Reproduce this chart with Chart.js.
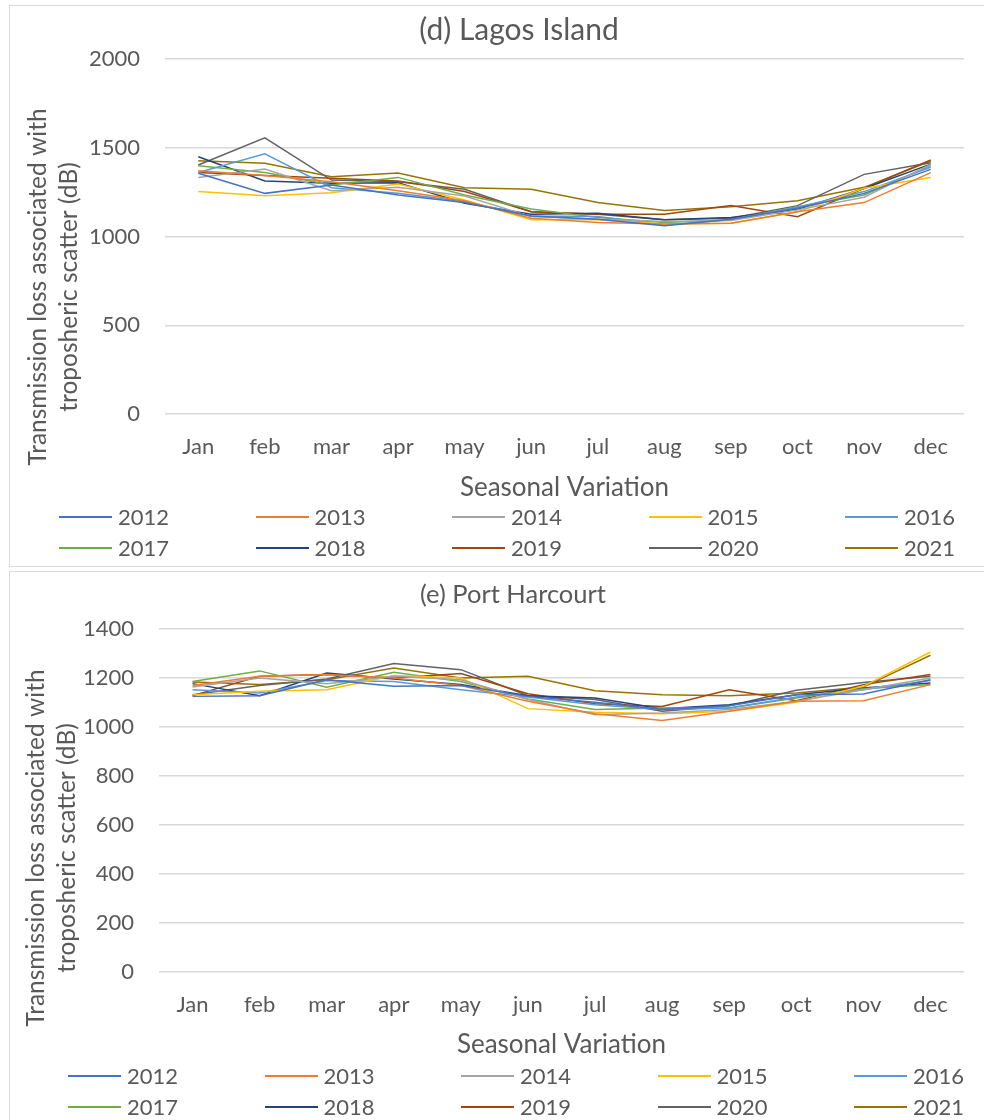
<!DOCTYPE html>
<html>
<head>
<meta charset="utf-8">
<script src="https://cdn.jsdelivr.net/npm/chart.js@4"></script>
<style>
  body { margin: 0; background: #fff; width: 984px; height: 1120px; overflow: hidden; position: relative; font-family: Lato, sans-serif; }
  .frame { position: absolute; border: 1.5px solid #d9d9d9; width: 1000px; box-sizing: border-box; }
  canvas { position: absolute; left: 0; }
  .legend { position: absolute; display: grid; grid-template-columns: repeat(5, 196.5px); grid-auto-rows: 31px; }
  .legend-item { display: flex; align-items: center; color: #595959; font-size: 22px; }
  .legend-item span.swatch { display: inline-block; width: 53px; height: 2px; margin-right: 6px; }
</style>
</head>
<body>
<div class="frame" style="left:9px; top:5px; height:562px;"></div>
<div class="frame" style="left:9px; top:571px; height:600px;"></div>
<canvas id="lagosChart" width="984" height="568" style="top:0"></canvas>
<canvas id="phChart" width="984" height="552" style="top:568px"></canvas>
<div id="lagosLegend" class="legend" style="left:59px; top:501px;"></div>
<div id="phLegend" class="legend" style="left:68px; top:1060px;"></div>
<script>
const months = ["Jan", "feb", "mar", "apr", "may", "jun", "jul", "aug", "sep", "oct", "nov", "dec"];
const years = ["2012", "2013", "2014", "2015", "2016", "2017", "2018", "2019", "2020", "2021"];
const yearColors = ["#4472C4", "#ED7D31", "#A5A5A5", "#FFC000", "#5B9BD5", "#70AD47", "#264478", "#9E480E", "#636363", "#997300"];

// (d) Lagos Island, one row per year
const lagos2012 = [1356, 1243, 1290, 1234, 1191, 1116, 1097, 1060, 1097, 1159, 1243, 1378];
const lagos2013 = [1371, 1343, 1309, 1258, 1202, 1103, 1079, 1071, 1075, 1140, 1191, 1360];
const lagos2014 = [1333, 1380, 1258, 1277, 1228, 1112, 1097, 1084, 1090, 1150, 1221, 1406];
const lagos2015 = [1253, 1230, 1247, 1296, 1206, 1094, 1094, 1071, 1075, 1140, 1272, 1333];
const lagos2016 = [1361, 1466, 1275, 1243, 1197, 1116, 1112, 1065, 1094, 1165, 1253, 1390];
const lagos2017 = [1399, 1360, 1290, 1333, 1234, 1155, 1107, 1079, 1094, 1168, 1234, 1399];
const lagos2018 = [1449, 1313, 1300, 1303, 1187, 1125, 1131, 1094, 1107, 1153, 1270, 1408];
const lagos2019 = [1361, 1343, 1328, 1313, 1253, 1140, 1125, 1125, 1174, 1112, 1272, 1431];
const lagos2020 = [1403, 1556, 1318, 1309, 1266, 1140, 1125, 1094, 1103, 1174, 1350, 1416];
const lagos2021 = [1427, 1412, 1337, 1358, 1275, 1266, 1191, 1146, 1168, 1202, 1277, 1425];

// (e) Port Harcourt
const ph2012 = [1125, 1128, 1193, 1166, 1169, 1125, 1101, 1071, 1087, 1132, 1135, 1193];
const ph2013 = [1169, 1207, 1214, 1200, 1169, 1105, 1054, 1027, 1064, 1105, 1107, 1173];
const ph2014 = [1163, 1200, 1177, 1207, 1193, 1112, 1050, 1057, 1071, 1105, 1152, 1200];
const ph2015 = [1132, 1146, 1152, 1210, 1200, 1075, 1060, 1054, 1064, 1101, 1166, 1306];
const ph2016 = [1152, 1139, 1190, 1186, 1152, 1122, 1091, 1071, 1078, 1122, 1152, 1190];
const ph2017 = [1186, 1229, 1162, 1223, 1186, 1114, 1071, 1078, 1078, 1118, 1156, 1173];
const ph2018 = [1177, 1128, 1220, 1196, 1173, 1128, 1118, 1075, 1091, 1132, 1159, 1180];
const ph2019 = [1128, 1207, 1214, 1200, 1218, 1136, 1095, 1084, 1152, 1107, 1173, 1214];
const ph2020 = [1132, 1169, 1196, 1259, 1234, 1128, 1112, 1064, 1087, 1150, 1182, 1207];
const ph2021 = [1184, 1173, 1193, 1241, 1200, 1207, 1148, 1132, 1128, 1139, 1163, 1293];

const lagosTicks = { min: 0, max: 2000, step: 500 };
const phTicks = { min: 0, max: 1400, step: 200 };

const lagosSeries = [lagos2012, lagos2013, lagos2014, lagos2015, lagos2016, lagos2017, lagos2018, lagos2019, lagos2020, lagos2021];
const phSeries = [ph2012, ph2013, ph2014, ph2015, ph2016, ph2017, ph2018, ph2019, ph2020, ph2021];

const textColor = "#595959";
const fontFamily = "Lato, sans-serif";
const yTitleLines = ["Transmission loss associated with", "troposheric scatter (dB)"];

// titles drawn straight on the canvas so the y title can sit off-centre like Excel does
const panelText = {
    id: "panelText",
    afterDraw(chart, args, opts) {
        const ctx = chart.ctx;
        ctx.save();
        ctx.fillStyle = textColor;
        ctx.textAlign = "center";
        ctx.textBaseline = "middle";

        ctx.font = `${opts.titleSize}px ${fontFamily}`;
        ctx.fillText(opts.title, opts.titleX, opts.titleY);

        ctx.font = `26px ${fontFamily}`;
        const area = chart.chartArea;
        ctx.fillText("Seasonal Variation", (area.left + area.right) / 2, opts.xTitleY);

        ctx.font = `24.5px ${fontFamily}`;
        ctx.translate(opts.yTitleX, opts.yTitleY);
        ctx.rotate(-Math.PI / 2);
        yTitleLines.forEach((line, i) => ctx.fillText(line, 0, i * 31));
        ctx.restore();
    }
};

function buildChart(canvasId, legendId, series, range, layout) {
    const datasets = series.map((values, i) => ({
        label: years[i],
        data: values,
        borderColor: yearColors[i],
        backgroundColor: yearColors[i],
        borderWidth: 1.5,
        pointRadius: 0,
        tension: 0,
        fill: false
    }));

    const chart = new Chart(document.getElementById(canvasId), {
        type: "line",
        data: { labels: months, datasets: datasets },
        plugins: [panelText],
        options: {
            responsive: false,
            animation: false,
            events: [],
            layout: { padding: layout.padding },
            plugins: {
                legend: { display: false },
                title: { display: false },
                tooltip: { enabled: false },
                panelText: layout.text
            },
            scales: {
                x: {
                    offset: true,
                    grid: { display: false, drawTicks: false },
                    border: { display: false },
                    ticks: { color: textColor, font: { family: fontFamily, size: 22 }, padding: 20, maxRotation: 0 },
                    afterFit(scale) { scale.height = 60; }
                },
                y: {
                    min: range.min,
                    max: range.max,
                    grid: { color: "#d9d9d9", lineWidth: 1.5, drawTicks: false },
                    border: { display: false },
                    ticks: {
                        stepSize: range.step,
                        color: textColor,
                        font: { family: fontFamily, size: 22 },
                        padding: 25,
                        callback: value => String(value)
                    },
                    afterFit(scale) { scale.width = layout.yWidth; }
                }
            }
        }
    });

    // html legend in Excel's 5-column layout
    const legendBox = document.getElementById(legendId);
    chart.data.datasets.forEach(ds => {
        const item = document.createElement("div");
        item.className = "legend-item";
        const swatch = document.createElement("span");
        swatch.className = "swatch";
        swatch.style.background = ds.borderColor;
        item.appendChild(swatch);
        item.appendChild(document.createTextNode(ds.label));
        legendBox.appendChild(item);
    });
    return chart;
}

buildChart("lagosChart", "lagosLegend", lagosSeries, lagosTicks, {
    padding: { left: 0, right: 20, top: 59, bottom: 94 },
    yWidth: 165,
    text: { title: "(d) Lagos Island", titleSize: 30, titleX: 519, titleY: 30, xTitleY: 488, yTitleX: 38, yTitleY: 287 }
});

buildChart("phChart", "phLegend", phSeries, phTicks, {
    padding: { left: 0, right: 20, top: 61, bottom: 88 },
    yWidth: 159,
    text: { title: "(e) Port Harcourt", titleSize: 25.5, titleX: 513, titleY: 27, xTitleY: 477, yTitleX: 36, yTitleY: 280 }
});
</script>
</body>
</html>
